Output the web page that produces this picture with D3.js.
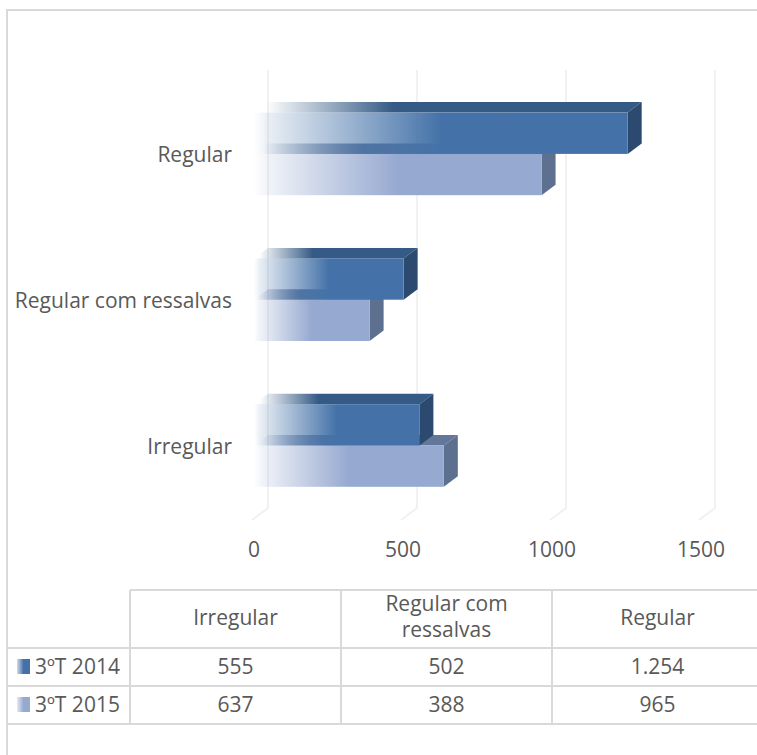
<!DOCTYPE html>
<meta charset="utf-8">
<style>
body { margin: 0; background: #fff; }
text { font-family: "Open Sans", sans-serif; fill: #595959; }
</style>
<body>
<script src="https://cdn.jsdelivr.net/npm/d3@7"></script>
<script>

var categories = ["Regular", "Regular com ressalvas", "Irregular"];
var tableCategories = ["Irregular", "Regular com ressalvas", "Regular"];
var seriesNames = ["3ºT 2014", "3ºT 2015"];
var values2014 = [1254, 502, 555];
var values2015 = [965, 388, 637];
var tableLabels2014 = ["555", "502", "1.254"];
var tableLabels2015 = ["637", "388", "965"];
var xTicks = [0, 500, 1000, 1500];

var width = 757, height = 755;
var depthX = 14, depthY = 10.5;

var colors = [
    {front: "#4472a8", top: "#355a85", side: "#2c4a70"},
    {front: "#96a9d0", top: "#63779a", side: "#5e7090"}
];

var svg = d3.select("body").append("svg")
    .attr("width", width)
    .attr("height", height);

svg.append("rect")
    .attr("x", 7).attr("y", 10)
    .attr("width", 760).attr("height", 760)
    .attr("fill", "#fff")
    .attr("stroke", "#d9d9d9")
    .attr("stroke-width", 2);

// scales
var x = d3.scaleLinear().domain([0, 1500]).range([254, 701]);
var y = d3.scaleBand().domain(categories).range([81, 518.4])
    .paddingInner(0.4335).paddingOuter(0.2167);
var ySeries = d3.scaleBand().domain(seriesNames).range([0, y.bandwidth()]);

var defs = svg.append("defs");

colors.forEach(function(c, i) {
    var front = defs.append("linearGradient").attr("id", "front" + i);
    front.append("stop").attr("offset", "0%").attr("stop-color", c.front).attr("stop-opacity", 0);
    front.append("stop").attr("offset", "4%").attr("stop-color", c.front).attr("stop-opacity", 0.12);
    front.append("stop").attr("offset", "50%").attr("stop-color", c.front).attr("stop-opacity", 1);
    var top = defs.append("linearGradient").attr("id", "top" + i);
    top.append("stop").attr("offset", "3%").attr("stop-color", c.top).attr("stop-opacity", 0);
    top.append("stop").attr("offset", "36%").attr("stop-color", c.top).attr("stop-opacity", 1);
});

// back wall grid lines and the floor
var grid = svg.append("g");
xTicks.forEach(function(t) {
    grid.append("path")
        .attr("d", "M" + (x(t) - 2) + ",520 L" + (x(t) + depthX) + ",508 V70")
        .attr("fill", "none")
        .attr("stroke", "#f1f1f1")
        .attr("stroke-width", 2);
});

// 2015 goes first so the 2014 bar sits over its top face
var seriesValues = [values2014, values2015];
[1, 0].forEach(function(s) {
    categories.forEach(function(cat, i) {
        var x0 = x(0), x1 = x(seriesValues[s][i]);
        var y0 = y(cat) + ySeries(seriesNames[s]);
        var y1 = y0 + ySeries.bandwidth();
        var g = svg.append("g");
        g.append("path")
            .attr("d", d3.line()([[x0, y0], [x0 + depthX, y0 - depthY], [x1 + depthX, y0 - depthY], [x1, y0]]))
            .attr("fill", "url(#top" + s + ")");
        g.append("path")
            .attr("d", d3.line()([[x1, y0], [x1 + depthX, y0 - depthY], [x1 + depthX, y1 - depthY], [x1, y1]]))
            .attr("fill", colors[s].side);
        g.append("rect")
            .attr("x", x0).attr("y", y0)
            .attr("width", x1 - x0).attr("height", y1 - y0)
            .attr("fill", "url(#front" + s + ")");
    });
});

// axis labels
var fs = "21px";
svg.selectAll(".cat").data(categories).enter().append("text")
    .attr("class", "cat")
    .attr("x", 232)
    .attr("y", function(d) { return y(d) + y.bandwidth() / 2 + 8; })
    .attr("text-anchor", "end")
    .style("font-size", fs)
    .text(function(d) { return d; });

svg.selectAll(".tick-label").data(xTicks).enter().append("text")
    .attr("class", "tick-label")
    .attr("x", function(d) { return x(d); })
    .attr("y", 557)
    .attr("text-anchor", "middle")
    .style("font-size", fs)
    .text(function(d) { return d; });

// data table
var col = d3.scaleBand().domain(tableCategories).range([130, 763]);
var rowTop = [590, 648, 686, 724];
var table = svg.append("g")
    .attr("stroke", "#d9d9d9")
    .attr("stroke-width", 2);

rowTop.forEach(function(r, i) {
    table.append("line")
        .attr("x1", i == 0 ? 130 : 7).attr("x2", 757)
        .attr("y1", r).attr("y2", r);
});
tableCategories.forEach(function(c) {
    table.append("line")
        .attr("x1", col(c)).attr("x2", col(c))
        .attr("y1", 590).attr("y2", 724);
});

tableCategories.forEach(function(c) {
    var t = svg.append("text")
        .attr("text-anchor", "middle")
        .style("font-size", fs);
    var cx = col(c) + col.bandwidth() / 2;
    if (c == "Regular com ressalvas") {
        t.append("tspan").attr("x", cx).attr("y", 611).text("Regular com");
        t.append("tspan").attr("x", cx).attr("y", 637).text("ressalvas");
    } else {
        t.attr("x", cx).attr("y", 625).text(c);
    }
});

[tableLabels2014, tableLabels2015].forEach(function(labels, s) {
    labels.forEach(function(l, i) {
        svg.append("text")
            .attr("x", col(tableCategories[i]) + col.bandwidth() / 2)
            .attr("y", rowTop[s + 1] + 26)
            .attr("text-anchor", "middle")
            .style("font-size", fs)
            .text(l);
    });
    svg.append("text")
        .attr("x", 35)
        .attr("y", rowTop[s + 1] + 26)
        .style("font-size", fs)
        .text(seriesNames[s]);
    var id = "key" + s;
    var g = defs.append("linearGradient").attr("id", id);
    g.append("stop").attr("offset", "0%").attr("stop-color", colors[s].front).attr("stop-opacity", 0.25);
    g.append("stop").attr("offset", "50%").attr("stop-color", colors[s].front).attr("stop-opacity", 1);
    svg.append("rect")
        .attr("x", 17).attr("y", rowTop[s + 1] + 11)
        .attr("width", 13).attr("height", 15)
        .attr("fill", "url(#" + id + ")");
});

</script>
</body>
